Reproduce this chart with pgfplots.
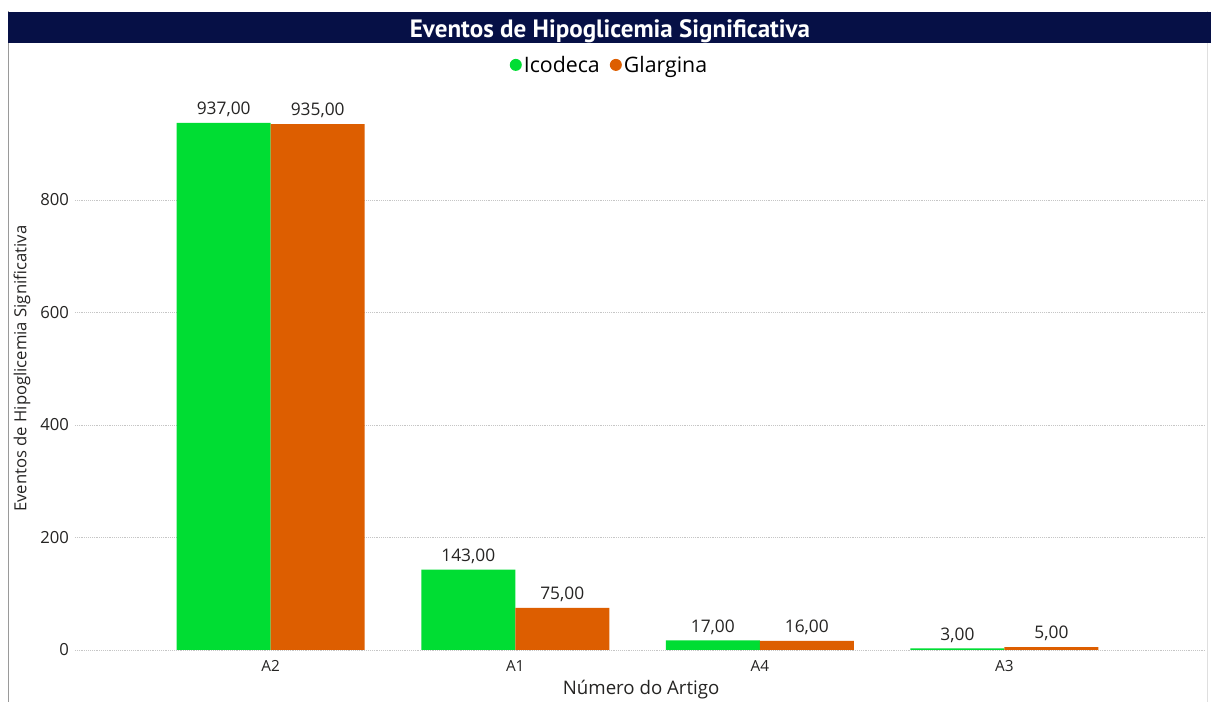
\documentclass[border=0pt]{standalone}
\usepackage{fontspec}
\setmainfont{Open Sans}
\newfontfamily\titlefont{PT Sans}
\usepackage{pgfplots}
\pgfplotsset{compat=1.18}
\definecolor{icodeca}{HTML}{00DD33}
\definecolor{glargina}{HTML}{DD5E00}
\definecolor{titlenavy}{HTML}{061046}
\definecolor{panelframe}{HTML}{9A9A9A}
\definecolor{ticktext}{HTML}{252423}

\begin{document}
\begin{tikzpicture}[x=0.75pt,y=0.75pt]
% white canvas with a framed panel
\fill[white] (0,0) rectangle (1211,702);
\draw[panelframe, line width=1.1pt] (8.5,0) -- (8.5,691);
\draw[gray!25, line width=0.75pt] (1207,0) -- (1207,691);
% title bar
\fill[titlenavy] (8,659) rectangle (1211,690);
\node[white, anchor=base, inner sep=0pt, font=\titlefont\bfseries\fontsize{18.8}{21}\selectfont] at (610,664) {Eventos de Hipoglicemia Significativa};

\begin{axis}[
  at={(56.25pt,39pt)}, anchor=south west,
  scale only axis, width=847.5pt, height=421.875pt,
  xmin=-0.8, xmax=3.82, ymin=0, ymax=1000,
  ybar=0pt, bar width=70.5pt,
  axis line style={draw=none},
  major tick style={draw=none},
  ymajorgrids,
  grid style={densely dotted, gray!45, line width=0.5pt},
  xtick={0,1,2,3}, xticklabels={A2,A1,A4,A3},
  ytick={0,200,400,600,800},
  /pgf/number format/assume math mode=true,
  yticklabel style={font=\fontsize{12.5}{14}\selectfont, text=ticktext, xshift=-1pt},
  xticklabel style={font=\fontsize{11.5}{13}\selectfont, text=ticktext},
  xlabel={Número do Artigo},
  ylabel={Eventos de Hipoglicemia Significativa},
  xlabel style={font=\fontsize{14}{16}\selectfont, text=ticktext,
    at={(axis description cs:0.501,-0.0700)}, anchor=center},
  ylabel style={font=\fontsize{12.5}{14}\selectfont, text=ticktext,
    at={(axis description cs:-0.047,0.5)}, anchor=center},
  nodes near coords={\pgfmathprintnumber[fixed,fixed zerofill,precision=2,use comma,assume math mode=true]{\pgfplotspointmeta}},
  nodes near coords style={font=\fontsize{13}{15}\selectfont, text=ticktext, anchor=south, yshift=1pt},
  legend style={at={(axis description cs:0.473,1.039)}, anchor=center,
    draw=none, fill=none, font=\fontsize{16}{18}\selectfont, text=black,
    legend columns=2, column sep=0pt, inner sep=0pt,
    nodes={inner xsep=1.5pt},
    /tikz/every even column/.append style={column sep=6pt}},
  legend image code/.code={\fill[#1] (-1pt,0.5pt) circle (4.5pt);},
]
\addplot[fill=icodeca, draw=none] coordinates {(0,937) (1,143) (2,17) (3,3)};
\addplot[fill=glargina, draw=none] coordinates {(0,935) (1,75) (2,16) (3,5)};
\legend{Icodeca, Glargina}
\end{axis}
\end{tikzpicture}
\end{document}
